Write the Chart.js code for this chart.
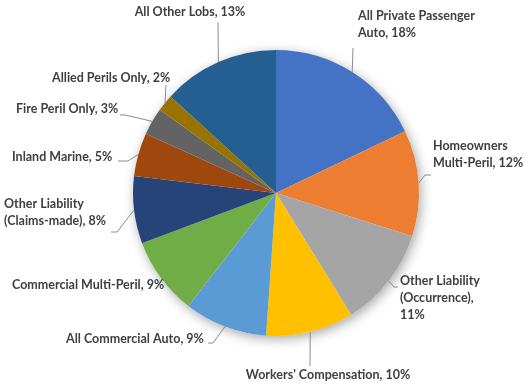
<!DOCTYPE html>
<html>
<head>
<meta charset="utf-8">
<script src="https://cdn.jsdelivr.net/npm/chart.js@4"></script>
<style>
  html, body { margin: 0; padding: 0; background: #fff; }
  #wrap { width: 525px; height: 384px; position: relative; }
</style>
</head>
<body>
<div id="wrap"><canvas id="grafica" width="525" height="384"></canvas></div>
<script>
// Datos (porcentaje de primas por línea de negocio)
const categorias = [
    'All Private Passenger Auto', 'Homeowners Multi-Peril', 'Other Liability (Occurrence)',
    "Workers' Compensation", 'All Commercial Auto', 'Commercial Multi-Peril',
    'Other Liability (Claims-made)', 'Inland Marine', 'Fire Peril Only',
    'Allied Perils Only', 'All Other Lobs'
];
const valores = [17.9, 12.0, 11.3, 9.9, 9.4, 8.8, 7.6, 4.9, 3.1, 1.9, 13.2];
// texto de cada etiqueta, partido en líneas como en el original
const lineasEtiqueta = [
    ['All Private Passenger', 'Auto, '],
    ['Homeowners', 'Multi-Peril, '],
    ['Other Liability', '(Occurrence),', ''],
    ["Workers' Compensation, "],
    ['All Commercial Auto, '],
    ['Commercial Multi-Peril, '],
    ['Other Liability', '(Claims-made), '],
    ['Inland Marine, '],
    ['Fire Peril Only, '],
    ['Allied Perils Only, '],
    ['All Other Lobs, ']
];
const colores = ['#4472C4', '#ED7D31', '#A5A5A5', '#FFC000', '#5B9BD5', '#70AD47',
                 '#264478', '#9E480E', '#636363', '#997300', '#255E91'];

// posición del texto y codos de las líneas guía (sólo estilo)
const posEtiquetas = [
    { x: 358, y: 16, align: 'left', guia: [[353, 48]] },
    { x: 433, y: 146, align: 'left', guia: [[425, 175], [431, 175]] },
    { x: 400, y: 281, align: 'left', guia: [[394, 287], [398, 287]] },
    { x: 328, y: 375, align: 'center', guia: [[310, 366]] },
    { x: 66, y: 339, align: 'left', guia: [[213, 343], [208, 343]] },
    { x: 12, y: 285, align: 'left', guia: null },
    { x: 4, y: 204, align: 'left', guia: [[117, 232], [111, 232]] },
    { x: 12, y: 157, align: 'left', guia: [[128, 161], [118, 161]] },
    { x: 16, y: 109, align: 'left', guia: [[125, 115], [120, 115]] },
    { x: 52, y: 78, align: 'left', guia: [[166, 85]] },
    { x: 190, y: 12, align: 'center', guia: [[218, 22]] }
];

const FUENTE = 'bold 12.5px Lato';
const ALTO_LINEA = 17;

// sombra suave bajo el círculo
const sombraPlugin = {
    id: 'sombra',
    beforeDatasetsDraw(chart) {
        const arc = chart.getDatasetMeta(0).data[0];
        if (!arc) return;
        const ctx = chart.ctx;
        ctx.save();
        ctx.shadowColor = 'rgba(0,0,0,0.35)';
        ctx.shadowBlur = 12;
        ctx.shadowOffsetX = 2;
        ctx.shadowOffsetY = 3;
        ctx.beginPath();
        ctx.arc(arc.x, arc.y, arc.outerRadius, 0, Math.PI * 2);
        ctx.fillStyle = '#fff';
        ctx.fill();
        ctx.restore();
    }
};

// etiquetas externas con líneas guía
const etiquetasPlugin = {
    id: 'etiquetas',
    afterDatasetsDraw(chart) {
        const ctx = chart.ctx;
        const meta = chart.getDatasetMeta(0);
        const total = valores.reduce((a, b) => a + b, 0);
        ctx.save();
        meta.data.forEach((arc, i) => {
            const p = posEtiquetas[i];
            const medio = (arc.startAngle + arc.endAngle) / 2;
            const bx = arc.x + Math.cos(medio) * arc.outerRadius;
            const by = arc.y + Math.sin(medio) * arc.outerRadius;
            if (p.guia) {
                ctx.beginPath();
                ctx.moveTo(bx, by);
                p.guia.forEach(pt => ctx.lineTo(pt[0], pt[1]));
                ctx.strokeStyle = '#8c8c8c';
                ctx.lineWidth = 1;
                ctx.stroke();
            }
            const pct = Math.round(valores[i] / total * 100) + '%';
            const lineas = lineasEtiqueta[i].slice();
            lineas[lineas.length - 1] += pct;
            ctx.font = FUENTE;
            ctx.fillStyle = '#404040';
            ctx.textAlign = p.align;
            ctx.textBaseline = 'middle';
            lineas.forEach((t, k) => ctx.fillText(t, p.x, p.y + k * ALTO_LINEA));
        });
        ctx.restore();
    }
};

const ctx = document.getElementById('grafica').getContext('2d');
new Chart(ctx, {
    type: 'pie',
    data: {
        labels: categorias,
        datasets: [{
            data: valores,
            backgroundColor: colores,
            borderWidth: 0
        }]
    },
    options: {
        responsive: false,
        animation: false,
        layout: { padding: { left: 60, right: 33, top: 50, bottom: 48 } },
        plugins: {
            legend: { display: false },
            tooltip: { enabled: false }
        }
    },
    plugins: [sombraPlugin, etiquetasPlugin]
});
</script>
</body>
</html>
